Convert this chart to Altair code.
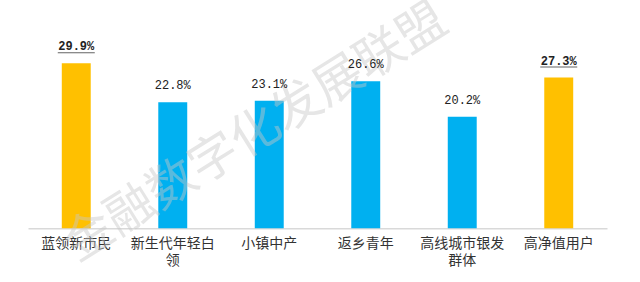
import altair as alt
import pandas as pd

categories = ["蓝领新市民", "新生代年轻白\n领", "小镇中产", "返乡青年", "高线城市银发\n群体", "高净值用户"]
values = [29.9, 22.8, 23.1, 26.6, 20.2, 27.3]
highlight = [True, False, False, False, False, True]
watermark = "金融数字化发展联盟"

df = pd.DataFrame({
    "cat": categories,
    "val": values,
    "hi": highlight,
    "lab": [f"{v:.1f}%" for v in values],
})

x = alt.X("cat:N", sort=None,
          scale=alt.Scale(paddingInner=0.7, paddingOuter=0.35),
          axis=alt.Axis(title=None, labelAngle=0, ticks=False,
                        domainColor="#d9d9d9", domainWidth=1.5,
                        labelFont="Noto Sans CJK SC", labelFontSize=14,
                        labelColor="#333333", labelPadding=8,
                        labelBaseline="top", labelLineHeight=17,
                        labelExpr="split(datum.label, '\\n')"))
y = alt.Y("val:Q", scale=alt.Scale(domain=[0, 35], nice=False), axis=None)

color = alt.Color("hi:N", scale=alt.Scale(domain=[True, False], range=["#FFC000", "#00B0F0"]), legend=None)

base = alt.Chart(df)

bars = base.mark_bar().encode(x=x, y=y, color=color)

labels_normal = base.transform_filter("!datum.hi").mark_text(
    font="Liberation Mono", fontSize=12, dy=-13, baseline="alphabetic", color="#222222"
).encode(x=x, y=y, text="lab:N")

labels_hi = base.transform_filter("datum.hi").mark_text(
    font="Liberation Mono", fontSize=12, fontWeight="bold", dy=-13, baseline="alphabetic", color="#222222"
).encode(x=x, y=y, text="lab:N")

underline = base.transform_filter("datum.hi").mark_tick(
    orient="horizontal", size=37, thickness=1, color="#222222", yOffset=-10.5
).encode(x=x, y=y)

wm = alt.Chart(pd.DataFrame({"t": [watermark]})).mark_text(
    font="Noto Sans CJK SC", fontSize=49, angle=328, color="#c8c8c8", opacity=0.45,
    align="center", baseline="middle"
).encode(x=alt.value(228), y=alt.value(98), text="t:N")

chart = alt.layer(bars, wm, underline, labels_normal, labels_hi).properties(
    width=579, height=193.2,
    autosize=alt.AutoSizeParams(type="none"),
    padding={"left": 28, "top": 35, "right": 33, "bottom": 54},
    background="white",
).configure_view(stroke=None)

chart.save("out.html", embed_options={"renderer": "svg", "actions": False})
